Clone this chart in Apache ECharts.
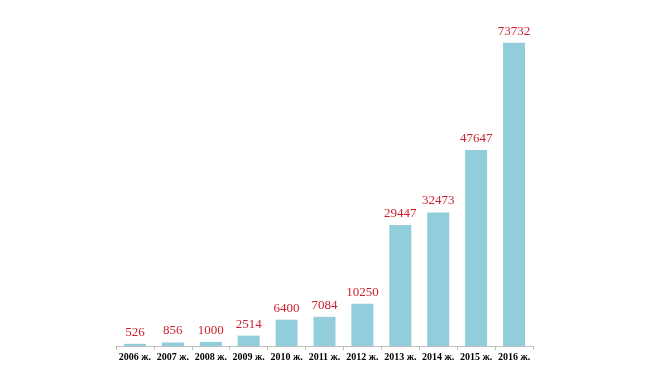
<!DOCTYPE html>
<html><head><meta charset="utf-8">
<script src="https://cdn.jsdelivr.net/npm/echarts@6/dist/echarts.min.js"></script>
<style>html,body{margin:0;padding:0;background:#fff}#c{width:662px;height:390px}</style>
</head><body><div id="c"></div>
<script>
const categories = ['2006 ж.','2007 ж.','2008 ж.','2009 ж.','2010 ж.','2011 ж.','2012 ж.','2013 ж.','2014 ж.','2015 ж.','2016 ж.'];
const values = [526,856,1000,2514,6400,7084,10250,29447,32473,47647,73732];
const chart = echarts.init(document.getElementById('c'));
chart.setOption({
  animation:false,
  grid:{left:116,right:129,top:17,bottom:44},
  xAxis:{type:'category',data:categories,
    axisLine:{lineStyle:{color:'#bfbfbf',width:1}},
    axisTick:{show:true,lineStyle:{color:'#bfbfbf'},length:4},
    axisLabel:{color:'#000',fontFamily:'Liberation Serif',fontWeight:'bold',fontSize:10,margin:6,interval:0}},
  yAxis:{type:'value',min:0,max:80000,show:false},
  series:[{type:'bar',data:values,barWidth:22,
    itemStyle:{color:'#92CDDC'},
    label:{show:true,position:'top',distance:5,color:'#CC1F2D',fontFamily:'Liberation Serif',fontSize:13}}]
});
</script></body></html>
